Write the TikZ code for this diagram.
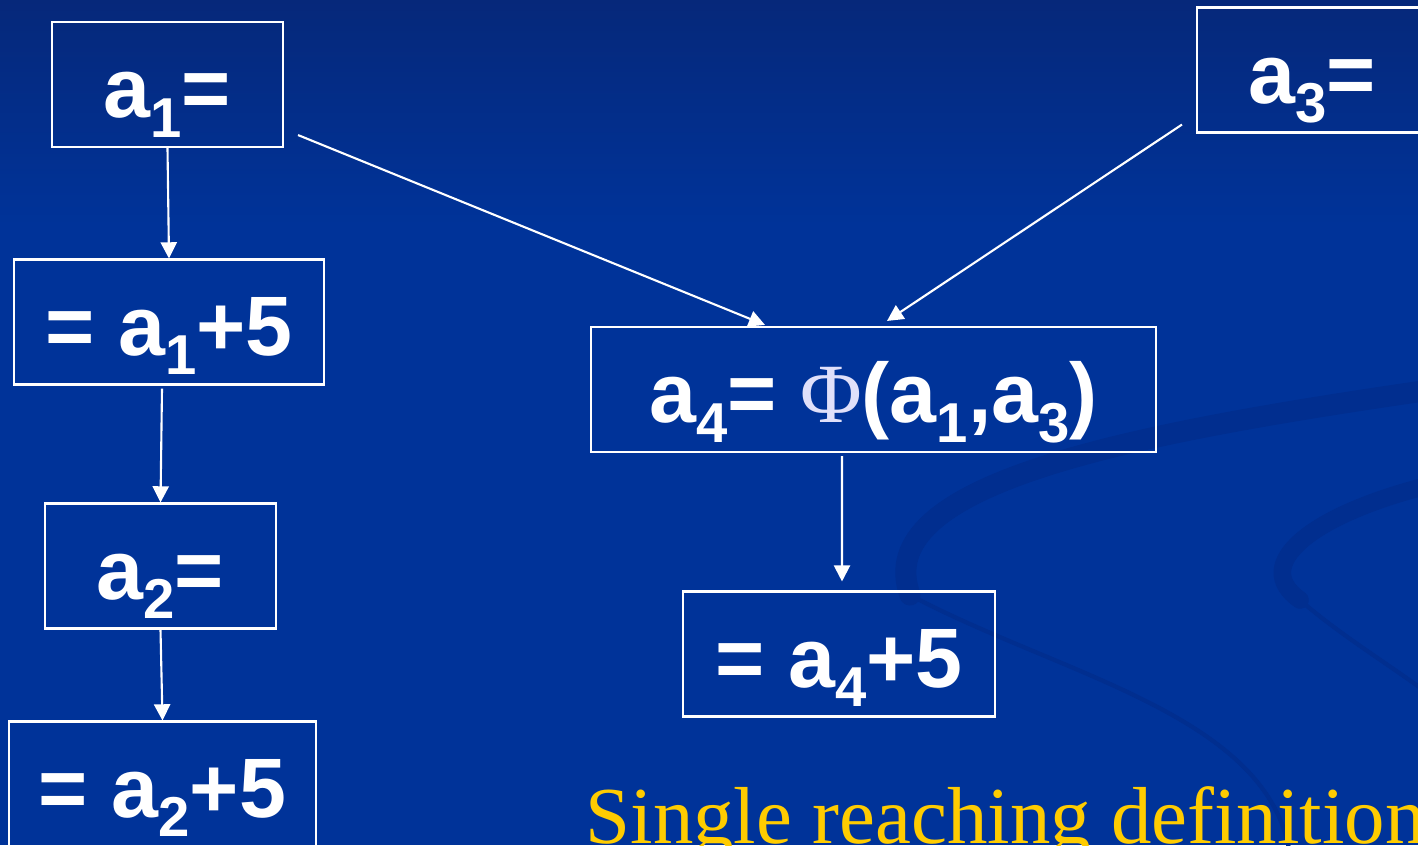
\documentclass[tikz,border=0pt]{standalone}
\usepackage{fontspec}
\setmainfont{Liberation Sans}
\newfontfamily\phifont{Liberation Serif}
\newfontfamily\capfont{Liberation Serif}
\usetikzlibrary{arrows.meta, positioning}
\definecolor{slidebg}{RGB}{0,51,153}
\definecolor{slidetop}{RGB}{6,40,122}
\definecolor{swirlcol}{RGB}{1,46,143}
\definecolor{phicol}{RGB}{224,224,250}
\definecolor{capyellow}{RGB}{255,204,0}
\newcommand{\sbs}[1]{\raisebox{-5.5pt}{\fontsize{16}{16}\selectfont #1}}

\begin{document}
\begin{tikzpicture}[
    box/.style={rectangle, draw=white, line width=0.6pt, text=white, inner sep=0pt,
        font=\fontsize{24}{28}\selectfont\bfseries, minimum height=1.25cm,
        text height=24pt, text depth=5pt},
    flow/.style={draw=white, line width=0.6pt, ->},
    swirl/.style={draw=swirlcol, line cap=round},
    >={Triangle[length=4.6pt, width=4.6pt]}
]
\useasboundingbox (0,0) rectangle (14.18,8.45);
% slide background
\fill[slidebg] (0,0) rectangle (14.18,8.45);
\shade[top color=slidetop, bottom color=slidebg] (0,6.2) rectangle (14.18,8.45);
\draw[swirl, line width=6pt] (14.3,4.55) .. controls (11.2,4.1) and (8.7,3.6) .. (9.1,2.5);
\draw[swirl, line width=1.2pt] (9.1,2.5) .. controls (10.6,1.7) and (12.7,1.3) .. (12.9,-0.1);
\draw[swirl, line width=5pt] (14.3,3.6) .. controls (13.1,3.3) and (12.5,2.8) .. (13.0,2.45);
\draw[swirl, line width=1.2pt] (13.0,2.45) .. controls (13.4,2.1) and (13.9,1.8) .. (14.3,1.5);

\node[box, minimum width=2.31cm] (a1) at (1.675,7.605) {a\sbs{1}=};
\node[box, minimum width=3.10cm] (u1) at (1.69,5.23) {= a\sbs{1}+5};
\node[box, minimum width=2.31cm] (a2) at (1.605,2.79) {a\sbs{2}=};
\node[box, minimum width=3.07cm] (u2) at (1.625,0.61) {= a\sbs{2}+5};
\node[box, minimum width=2.31cm] (a3) at (13.125,7.75) {a\sbs{3}=};
\node[box, minimum width=5.65cm] (a4) at (8.735,4.555)
    {a\sbs{4}= {\phifont\mdseries\color{phicol}Φ}(a\sbs{1},a\sbs{3})};
\node[box, minimum width=3.12cm] (u4) at (8.39,1.91) {= a\sbs{4}+5};

\node[anchor=base west, inner sep=0pt, text=capyellow,
    font=\capfont\fontsize{23}{23}\selectfont] (cap) at (5.85,0.02) {Single reaching definition};

\draw[flow] (a1.south) -- (u1.north);
\draw[flow] ([xshift=-0.07cm, yshift=-0.03cm]u1.south) -- (a2.north);
\draw[flow] (a2.south) -- (u2.north);
\draw[flow] ([shift={(0.14cm,0.13cm)}]a1.south east) -- ([xshift=-1.085cm, yshift=0.01cm]a4.north);
\draw[flow] ([shift={(-0.14cm,0.09cm)}]a3.south west) -- ([xshift=0.135cm, yshift=0.05cm]a4.north);
\draw[flow] ([xshift=-0.315cm, yshift=-0.03cm]a4.south) -- ([xshift=0.03cm, yshift=0.09cm]u4.north);
\end{tikzpicture}
\end{document}
